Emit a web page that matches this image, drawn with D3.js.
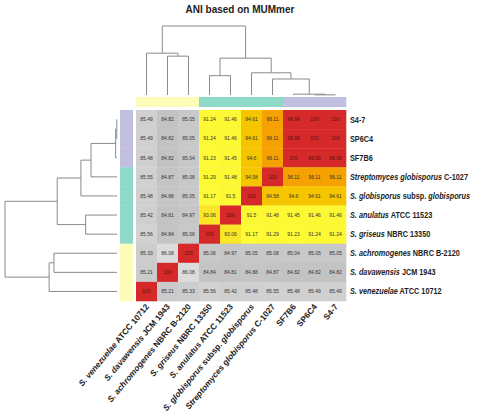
<!DOCTYPE html>
<html><head><meta charset="utf-8">
<script src="https://cdn.jsdelivr.net/npm/d3@7"></script>
<style>body{margin:0;background:#fff}svg{display:block}</style>
</head><body>
<svg id="c" width="479" height="418"></svg>
<script>
// ---- data ----
const colNames = ["S. venezuelae ATCC 10712","S. davawensis JCM 1943","S. achromogenes NBRC B-2120","S. griseus NBRC 13350","S. anulatus ATCC 11523","S. globisporus subsp. globisporus","Streptomyces globisporus C-1027","SF7B6","SP6C4","S4-7"];
const rowNames = ["S4-7","SP6C4","SF7B6","Streptomyces globisporus C-1027","S. globisporus subsp. globisporus","S. anulatus ATCC 11523","S. griseus NBRC 13350","S. achromogenes NBRC B-2120","S. davawensis JCM 1943","S. venezuelae ATCC 10712"];
const italicParts = ["S. venezuelae","S. davawensis","S. achromogenes","S. griseus","S. anulatus","S. globisporus","globisporus","Streptomyces globisporus"];
const values = [
 [85.49,84.82,85.05,91.24,91.46,94.61,96.11,99.99,100,100],
 [85.49,84.82,85.05,91.24,91.46,94.61,96.11,99.99,100,100],
 [85.48,84.82,85.04,91.23,91.45,94.6,96.11,100,99.99,99.99],
 [85.55,84.87,85.08,91.29,91.48,94.58,100,96.11,96.11,96.11],
 [85.48,84.88,85.05,91.17,91.5,100,94.58,94.6,94.61,94.61],
 [85.42,84.81,84.97,93.06,100,91.5,91.48,91.45,91.46,91.46],
 [85.56,84.84,85.06,100,93.06,91.17,91.29,91.23,91.24,91.24],
 [85.33,86.08,100,85.06,84.97,85.05,85.08,85.04,85.05,85.05],
 [85.21,100,86.08,84.84,84.81,84.88,84.87,84.82,84.82,84.82],
 [100,85.21,85.33,85.56,85.42,85.48,85.55,85.48,85.49,85.49]
];
// cluster groups (same order as names)
const colGroups = [0,0,0,1,1,1,1,2,2,2];
const rowGroups = [2,2,2,1,1,1,1,0,0,0];
const groupColors = ["#fdfcb8","#8fd9c9","#c1bfe0"];
// dendrogram (leaf names, relative merge heights)
const tree = {h:1.0, c:[
  {h:0.534, c:[
    {h:0.322, c:[
      {h:0.232, c:[
        {h:0.012, c:[{h:0.002, c:["S4-7","SP6C4"]},"SF7B6"]},
        "Streptomyces globisporus C-1027"]},
      "S. globisporus subsp. globisporus"]},
    {h:0.28, c:["S. griseus NBRC 13350","S. anulatus ATCC 11523"]}]},
  {h:0.606, c:[
    {h:0.563, c:["S. achromogenes NBRC B-2120","S. davawensis JCM 1943"]},
    "S. venezuelae ATCC 10712"]}
]};
const colorStops = [84.8, 86.1, 91.1, 93.1, 94.6, 96.1, 99.9, 100];
const colorRange = ["#c3c3c3","#dcdcdc","#fdfc36","#fae626","#f6c500","#f5a100","#d62a2a","#d62a2a"];

// ---- drawing ----
const svg = d3.select("#c");
const font = "'Liberation Sans', Arial, sans-serif";
const gx0 = 136, gx1 = 346, gy0 = 110, gy1 = 301;
const x = d3.scaleBand().domain(colNames).range([gx0, gx1]);
const y = d3.scaleBand().domain(rowNames).range([gy0, gy1]);
const color = d3.scaleLinear().domain(colorStops).range(colorRange);

svg.append("text").attr("x", 240).attr("y", 13).attr("text-anchor","middle")
  .attr("font-family", font).attr("font-weight","bold").attr("font-size", 10).attr("fill","#222")
  .text("ANI based on MUMmer");

const cells = [];
values.forEach((row, i) => row.forEach((v, j) => cells.push({r: rowNames[i], c: colNames[j], v})));
const g = svg.append("g");
g.selectAll("rect.cell").data(cells).join("rect").attr("class","cell")
  .attr("x", d => x(d.c)).attr("y", d => y(d.r))
  .attr("width", x.bandwidth()+0.3).attr("height", y.bandwidth()+0.3)
  .attr("fill", d => color(d.v));
g.selectAll("text.val").data(cells).join("text").attr("class","val")
  .attr("x", d => x(d.c) + x.bandwidth()/2).attr("y", d => y(d.r) + y.bandwidth()/2 + 1.8)
  .attr("text-anchor","middle").attr("font-family", font).attr("font-size", 5)
  .attr("fill", d => d.v >= 99 ? "#5a1010" : "#333")
  .text(d => d.v);

// group bars
svg.selectAll("rect.cg").data(colNames).join("rect").attr("class","cg")
  .attr("x", d => x(d)).attr("y", 97).attr("width", x.bandwidth()+0.3).attr("height", 10)
  .attr("fill", (d,i) => groupColors[colGroups[i]]);
svg.selectAll("rect.rg").data(rowNames).join("rect").attr("class","rg")
  .attr("x", 120).attr("y", d => y(d)).attr("width", 13).attr("height", y.bandwidth()+0.3)
  .attr("fill", (d,i) => groupColors[rowGroups[i]]);

// labels with italic parts
function addLabel(sel, name) {
  let parts = [];
  if (name.startsWith("S. globisporus subsp.")) parts = [["S. globisporus",1],[" subsp. ",0],["globisporus",1]];
  else {
    const ip = italicParts.filter(p => name.startsWith(p)).sort((a,b)=>b.length-a.length)[0];
    if (ip) parts = [[ip,1],[name.slice(ip.length),0]]; else parts = [[name,0]];
  }
  parts.forEach(p => sel.append("tspan").attr("font-style", p[1] ? "italic" : "normal").text(p[0]));
}
const rl = svg.selectAll("text.rl").data(rowNames).join("text").attr("class","rl")
  .attr("x", 0).attr("y", 0)
  .attr("font-family", font).attr("font-weight","bold")
  .attr("font-size", 8.6).attr("fill","#222")
  .each(function(d){ addLabel(d3.select(this), d); });
let maxW = 0;
rl.each(function(){ maxW = Math.max(maxW, this.getComputedTextLength()); });
const sx = Math.min(1, 120 / maxW);
rl.attr("transform", d => `translate(350,${y(d) + y.bandwidth()/2 + 3}) scale(${sx},1)`);

svg.selectAll("text.cl").data(colNames).join("text").attr("class","cl")
  .attr("transform", d => `translate(${x(d)+x.bandwidth()/2+3},${gy1+6}) rotate(-50)`)
  .attr("text-anchor","end")
  .attr("font-family", font).attr("font-weight","bold")
  .attr("font-size", 8.3).attr("fill","#222")
  .each(function(d){ addLabel(d3.select(this), d); });

// dendrograms
function layout(node, pos) {
  if (typeof node === "string") return {p: pos(node), h: 0};
  const kids = node.c.map(k => layout(k, pos));
  return {p: d3.mean(kids, k => k.p), h: node.h, kids};
}
function segs(n, out) {
  if (!n.kids) return out;
  const ps = n.kids.map(k => k.p);
  out.push([[d3.min(ps), n.h],[d3.max(ps), n.h]]);
  n.kids.forEach(k => { out.push([[k.p, k.h],[k.p, n.h]]); segs(k, out); });
  return out;
}
const colTree = layout(tree, d => x(d) + x.bandwidth()/2);
const rowTree = layout(tree, d => y(d) + y.bandwidth()/2);
const hCol = d3.scaleLinear().domain([0,1]).range([95, 26]);
const hRow = d3.scaleLinear().domain([0,1]).range([117, 5]);
svg.append("g").selectAll("line").data(segs(colTree, [])).join("line")
  .attr("x1", s => s[0][0]).attr("x2", s => s[1][0])
  .attr("y1", s => hCol(s[0][1])).attr("y2", s => hCol(s[1][1]))
  .attr("stroke","#8a8a8a").attr("stroke-width",1);
svg.append("g").selectAll("line").data(segs(rowTree, [])).join("line")
  .attr("y1", s => s[0][0]).attr("y2", s => s[1][0])
  .attr("x1", s => hRow(s[0][1])).attr("x2", s => hRow(s[1][1]))
  .attr("stroke","#8a8a8a").attr("stroke-width",1);
</script>
</body></html>
